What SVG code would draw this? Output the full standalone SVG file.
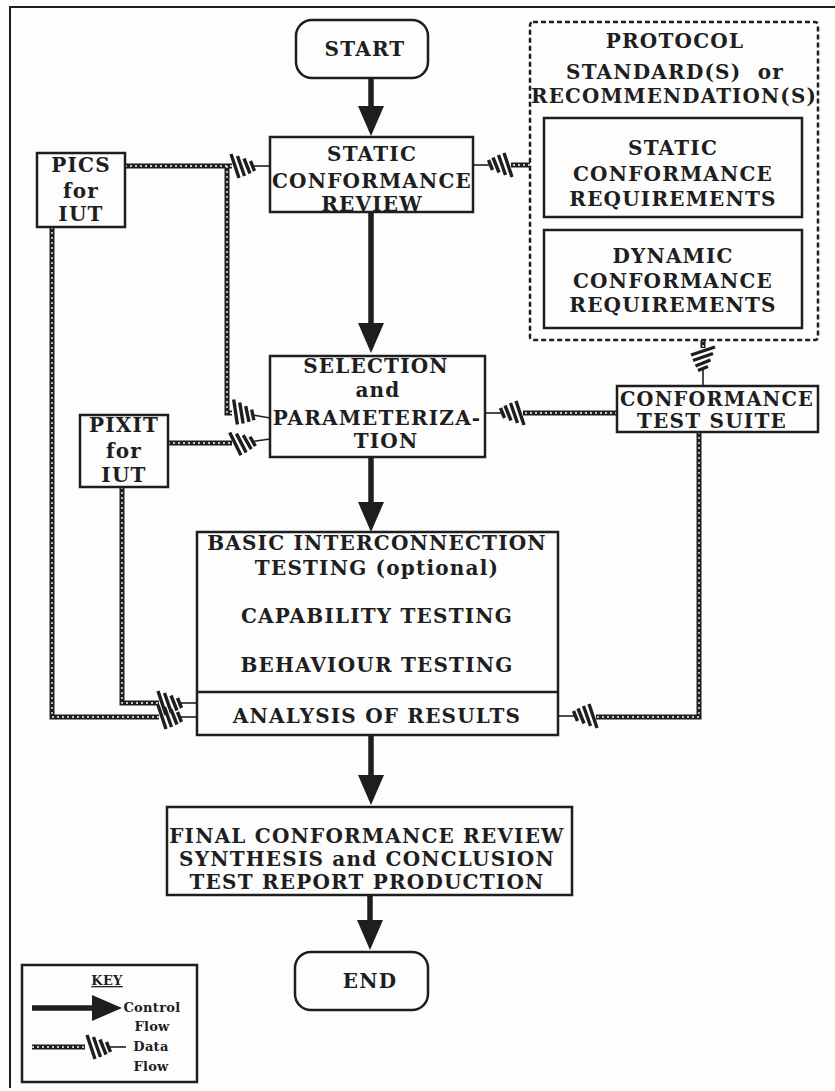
<svg xmlns="http://www.w3.org/2000/svg" xmlns:xlink="http://www.w3.org/1999/xlink" width="835" height="1091" viewBox="0 0 835 1091">
  <style>
    .t { font-family: "DejaVu Serif", "Liberation Serif", serif; font-weight: bold; font-size: 20px; letter-spacing: 1.2px; fill: #1e1e1e; text-anchor: middle; }
    .s { font-size: 13px; letter-spacing: 0.3px; }
    .box { fill: none; stroke: #1e1e1e; stroke-width: 2.5; }
    .ctl { fill: none; stroke: #1e1e1e; stroke-width: 5.5; marker-end: url(#ctlHead); }
    .ropeOuter { fill: none; stroke: #1e1e1e; stroke-width: 5; }
    .ropeInner { fill: none; stroke: #ffffff; stroke-width: 1.3; stroke-dasharray: 2 3; }
  </style>
  <defs>
    <marker id="ctlHead" markerUnits="userSpaceOnUse" markerWidth="32" markerHeight="28" refX="22" refY="14" orient="auto">
      <path d="M0,1 L30,14 L0,27 z" fill="#1e1e1e"/>
    </marker>
    <!-- striped data-flow arrowhead, tip at origin, pointing +x -->
    <g id="dataHead" fill="none" stroke="#1e1e1e">
      <path d="M-39,-12 L-31,12 M-32.5,-10 L-25.5,10 M-26,-7.5 L-20,7.5 M-19.5,-5 L-15.5,5" stroke-width="3.4"/>
      <path d="M-16,0 H0" stroke-width="1.6"/>
    </g>
    <g id="ropePaths">
      <path d="M125,166 H232"/>
      <path d="M227,166 V413 H232"/>
      <path d="M168,443 H232"/>
      <path d="M52,227 V717 H159"/>
      <path d="M122,487 V703 H159"/>
      <path d="M530,165 H511"/>
      <path d="M703,340 V348"/>
      <path d="M617,413 H523"/>
      <path d="M699,432 V717 H596"/>
      <path d="M32,1047 H85"/>
    </g>
  </defs>

  <rect width="835" height="1091" fill="#fdfdfd"/>

  <!-- page frame -->
  <path d="M10,1088 V7 H835" fill="none" stroke="#1e1e1e" stroke-width="2"/>

  <!-- connectors -->
  <g id="connectors">
    <path class="ctl" d="M371,78 V128"/>
    <path class="ctl" d="M371,212 V345"/>
    <path class="ctl" d="M371,457 V524"/>
    <path class="ctl" d="M371,735 V797"/>
    <path class="ctl" d="M370,895 V942"/>
    <use href="#ropePaths" class="ropeOuter"/>
    <use href="#ropePaths" class="ropeInner"/>
    <use href="#dataHead" transform="translate(270,166)"/>
    <use href="#dataHead" transform="translate(270,418) rotate(10)"/>
    <use href="#dataHead" transform="translate(270,439) rotate(-8)"/>
    <use href="#dataHead" transform="translate(197,703)"/>
    <use href="#dataHead" transform="translate(197,717)"/>
    <use href="#dataHead" transform="translate(473,165) rotate(180)"/>
    <use href="#dataHead" transform="translate(703,386) rotate(90)"/>
    <use href="#dataHead" transform="translate(485,413) rotate(180)"/>
    <use href="#dataHead" transform="translate(558,716) rotate(180)"/>
  </g>

  <g id="start">
    <rect class="box" x="296" y="20" width="132" height="58" rx="16"/>
    <text class="t" x="365" y="56">START</text>
  </g>

  <g id="static-review">
    <rect class="box" x="270" y="137" width="203" height="75"/>
    <text class="t" x="372" y="161">STATIC</text>
    <text class="t" x="372" y="188">CONFORMANCE</text>
    <text class="t" x="372" y="211">REVIEW</text>
  </g>

  <g id="pics">
    <rect class="box" x="37" y="153" width="88" height="74"/>
    <text class="t" x="81" y="172">PICS</text>
    <text class="t" x="81" y="198">for</text>
    <text class="t" x="81" y="221">IUT</text>
  </g>

  <g id="protocol-standards">
    <rect x="530" y="22" width="288" height="318" rx="3" fill="none" stroke="#1e1e1e" stroke-width="2.5" stroke-dasharray="5 3"/>
    <text class="t" x="675" y="48">PROTOCOL</text>
    <text class="t" x="675" y="79" xml:space="preserve">STANDARD(S)  or</text>
    <text class="t" x="674" y="103" textLength="286" lengthAdjust="spacingAndGlyphs">RECOMMENDATION(S)</text>
  </g>

  <g id="static-requirements">
    <rect class="box" x="544" y="118" width="258" height="99"/>
    <text class="t" x="673" y="155">STATIC</text>
    <text class="t" x="673" y="181">CONFORMANCE</text>
    <text class="t" x="673" y="206">REQUIREMENTS</text>
  </g>

  <g id="dynamic-requirements">
    <rect class="box" x="544" y="230" width="258" height="98"/>
    <text class="t" x="673" y="263">DYNAMIC</text>
    <text class="t" x="673" y="288">CONFORMANCE</text>
    <text class="t" x="673" y="312">REQUIREMENTS</text>
  </g>

  <g id="selection">
    <rect class="box" x="270" y="356" width="215" height="101"/>
    <text class="t" x="376" y="373">SELECTION</text>
    <text class="t" x="378" y="397">and</text>
    <text class="t" x="377" y="425">PARAMETERIZA-</text>
    <text class="t" x="386" y="448">TION</text>
  </g>

  <g id="pixit">
    <rect class="box" x="80" y="415" width="88" height="72"/>
    <text class="t" x="124" y="432">PIXIT</text>
    <text class="t" x="124" y="458">for</text>
    <text class="t" x="124" y="482">IUT</text>
  </g>

  <g id="test-suite">
    <rect class="box" x="617" y="386" width="201" height="46"/>
    <text class="t" x="717" y="406" font-size="16" textLength="194" lengthAdjust="spacingAndGlyphs">CONFORMANCE</text>
    <text class="t" x="712" y="428" font-size="16" textLength="150" lengthAdjust="spacingAndGlyphs">TEST SUITE</text>
  </g>

  <g id="testing">
    <rect class="box" x="197" y="532" width="361" height="203"/>
    <path d="M197,692 H558" stroke="#1e1e1e" stroke-width="2.5"/>
    <text class="t" x="377" y="550">BASIC INTERCONNECTION</text>
    <text class="t" x="377" y="575">TESTING (optional)</text>
    <text class="t" x="377" y="623">CAPABILITY TESTING</text>
    <text class="t" x="377" y="672">BEHAVIOUR TESTING</text>
    <text class="t" x="377" y="723">ANALYSIS OF RESULTS</text>
  </g>

  <g id="final-review">
    <rect class="box" x="167" y="807" width="405" height="88"/>
    <text class="t" x="367" y="843">FINAL CONFORMANCE REVIEW</text>
    <text class="t" x="367" y="866">SYNTHESIS and CONCLUSION</text>
    <text class="t" x="367" y="889">TEST REPORT PRODUCTION</text>
  </g>

  <g id="end">
    <rect class="box" x="295" y="952" width="133" height="58" rx="16"/>
    <text class="t" x="370" y="988">END</text>
  </g>

  <g id="key">
    <rect class="box" x="22" y="965" width="175" height="117" stroke-width="2"/>
    <text class="t s" x="107" y="985" text-decoration="underline">KEY</text>
    <path class="ctl" d="M32,1008 H114"/>
    <text class="t s" x="152" y="1012">Control</text>
    <text class="t s" x="152" y="1031">Flow</text>
    <use href="#dataHead" transform="translate(126,1047)"/>
    <text class="t s" x="151" y="1051">Data</text>
    <text class="t s" x="151" y="1071">Flow</text>
  </g>
</svg>
